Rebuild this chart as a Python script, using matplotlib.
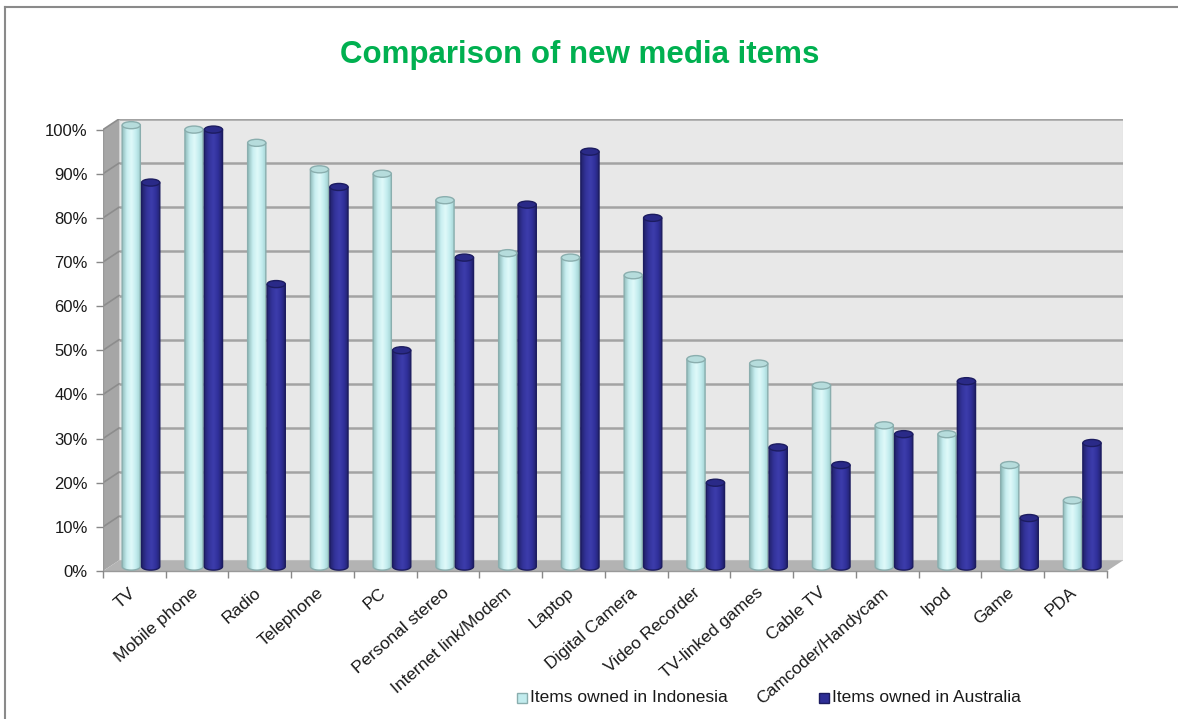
import numpy as np
import matplotlib
matplotlib.use("Agg")
import matplotlib.pyplot as plt
from matplotlib.patches import Polygon, PathPatch, Ellipse, Rectangle
from matplotlib.path import Path
from matplotlib.colors import LinearSegmentedColormap
from matplotlib.lines import Line2D

plt.rcParams['font.family'] = ['Liberation Sans', 'DejaVu Sans']

categories = ["TV", "Mobile phone", "Radio", "Telephone", "PC", "Personal stereo",
              "Internet link/Modem", "Laptop", "Digital Camera", "Video Recorder",
              "TV-linked games", "Cable TV", "Camcoder/Handycam", "Ipod", "Game", "PDA"]
indonesia = [100, 99, 96, 90, 89, 83, 71, 70, 66, 47, 46, 41, 32, 30, 23, 15]
australia = [87, 99, 64, 86, 49, 70, 82, 94, 79, 19, 27, 23, 30, 42, 11, 28]
series_names = ["Items owned in Indonesia", "Items owned in Australia"]
yticks = list(range(0, 101, 10))

n = len(categories)
dx, dy = 0.255, 2.4      # depth of the fake 3d box (category units, percent)
base = 1.0               # bars stand in the middle of the floor
bw = 0.29
eh = 1.6                 # ellipse height of cylinder caps

W, H = 1178, 719
fig = plt.figure(figsize=(W / 100, H / 100), dpi=100)
fig.patch.set_facecolor("white")
ax = fig.add_axes([103 / W, 148 / H, 1020 / W, 452 / H])
ax.set_xlim(0, n + dx)
ax.set_ylim(0, 100 + dy)
for s in ax.spines.values():
    s.set_visible(False)
ax.set_facecolor("none")

# walls and floor
ax.add_patch(Polygon([(dx, dy), (n + dx, dy), (n + dx, 100 + dy), (dx, 100 + dy)],
                     closed=True, facecolor="#e8e8e8", edgecolor="#d0d0d0", lw=0.8, zorder=0))
ax.add_patch(Polygon([(0, 0), (dx, dy), (dx, 100 + dy), (0, 100)],
                     closed=True, facecolor="#a6a6a6", edgecolor="none", zorder=0))
ax.add_patch(Polygon([(0, 0), (n, 0), (n + dx, dy), (dx, dy)],
                     closed=True, facecolor="#b3b3b3", edgecolor="none", zorder=0))
for v in yticks[1:]:
    ax.plot([dx, n + dx], [v + dy, v + dy], color="#a3a3a3", lw=1.8, zorder=1, solid_capstyle="butt")
    ax.plot([0, dx], [v, v + dy], color="#8c8c8c", lw=1.2, zorder=1)
ax.plot([0, n], [0, 0], color="#999999", lw=1, zorder=1, clip_on=False)
ax.plot([0, 0], [0, 100], color="#999999", lw=1, zorder=1)

cm_light = LinearSegmentedColormap.from_list("l", ["#8fbcbc", "#c8eef0", "#e0fafa", "#c2ecee", "#9fcfcf"])
cm_dark = LinearSegmentedColormap.from_list("d", ["#23236e", "#33339a", "#3d3dac", "#30309a", "#1f1f66"])
grad = np.linspace(0, 1, 64).reshape(1, -1)


def cylinder(cx, val, cmap, edge, cap_face, cap_edge):
    x0, x1 = cx - bw / 2, cx + bw / 2
    top = base + val
    th = np.linspace(np.pi, 2 * np.pi, 40)
    bx = cx + bw / 2 * np.cos(th)
    by = base + eh / 2 * np.sin(th)
    verts = [(x0, top)] + list(zip(bx, by)) + [(x1, top), (x0, top)]
    path = Path(verts)
    body = PathPatch(path, facecolor="none", edgecolor=edge, lw=1, zorder=3)
    ax.add_patch(body)
    im = ax.imshow(grad, cmap=cmap, aspect="auto", extent=(x0, x1, base - eh, top),
                   zorder=2, interpolation="bicubic")
    im.set_clip_path(body)
    ax.add_patch(Ellipse((cx, top), bw, eh, facecolor=cap_face, edgecolor=cap_edge, lw=1, zorder=4))


for i in range(n):
    cylinder(i + 0.45, indonesia[i], cm_light, "#8aaeae", "#b6dcdc", "#8aaeae")
    cylinder(i + 0.76, australia[i], cm_dark, "#1c1c60", "#2a2a88", "#1c1c60")

ax.set_xlim(0, n + dx)
ax.set_ylim(0, 100 + dy)

ax.set_yticks(yticks)
ax.set_yticklabels([f"{v}%" for v in yticks], fontsize=12, color="#1a1a1a")
ax.tick_params(axis="y", length=5, color="#888888", width=1, pad=6)
ax.set_xticks(np.arange(n + 1))
ax.set_xticklabels([])
ax.tick_params(axis="x", which="major", length=5, color="#888888", width=1)
ax.set_xticks(np.arange(n) + 0.4, minor=True)
ax.set_xticklabels(categories, minor=True, rotation=41, ha="right", va="top",
                   rotation_mode="anchor", fontsize=12.5, color="#1a1a1a")
ax.tick_params(axis="x", which="minor", length=0, pad=10)

fig.text(580 / W, 1 - 55 / H, "Comparison of new media items", ha="center", va="center",
         fontsize=22.5, fontweight="bold", color="#00b050")

# legend
leg_y = 698
for mx, label, fc, ec in [(517, series_names[0], "#c2ecee", "#8aaeae"),
                          (819, series_names[1], "#2e2e96", "#1c1c60")]:
    fig.patches.append(Rectangle((mx / W, 1 - (leg_y + 5) / H), 10 / W, 10 / H,
                                 transform=fig.transFigure, facecolor=fc, edgecolor=ec, lw=1))
    fig.text((mx + 13) / W, 1 - leg_y / H, label, ha="left", va="center", fontsize=12.5, color="#1a1a1a")

# outer frame (cropped slide)
fig.add_artist(Line2D([5 / W, 5 / W], [0, 1 - 7 / H], transform=fig.transFigure, color="#8a8a8a", lw=1.5))
fig.add_artist(Line2D([5 / W, 1], [1 - 7 / H, 1 - 7 / H], transform=fig.transFigure, color="#8a8a8a", lw=1.5))

fig.savefig("out.png", dpi=100)
